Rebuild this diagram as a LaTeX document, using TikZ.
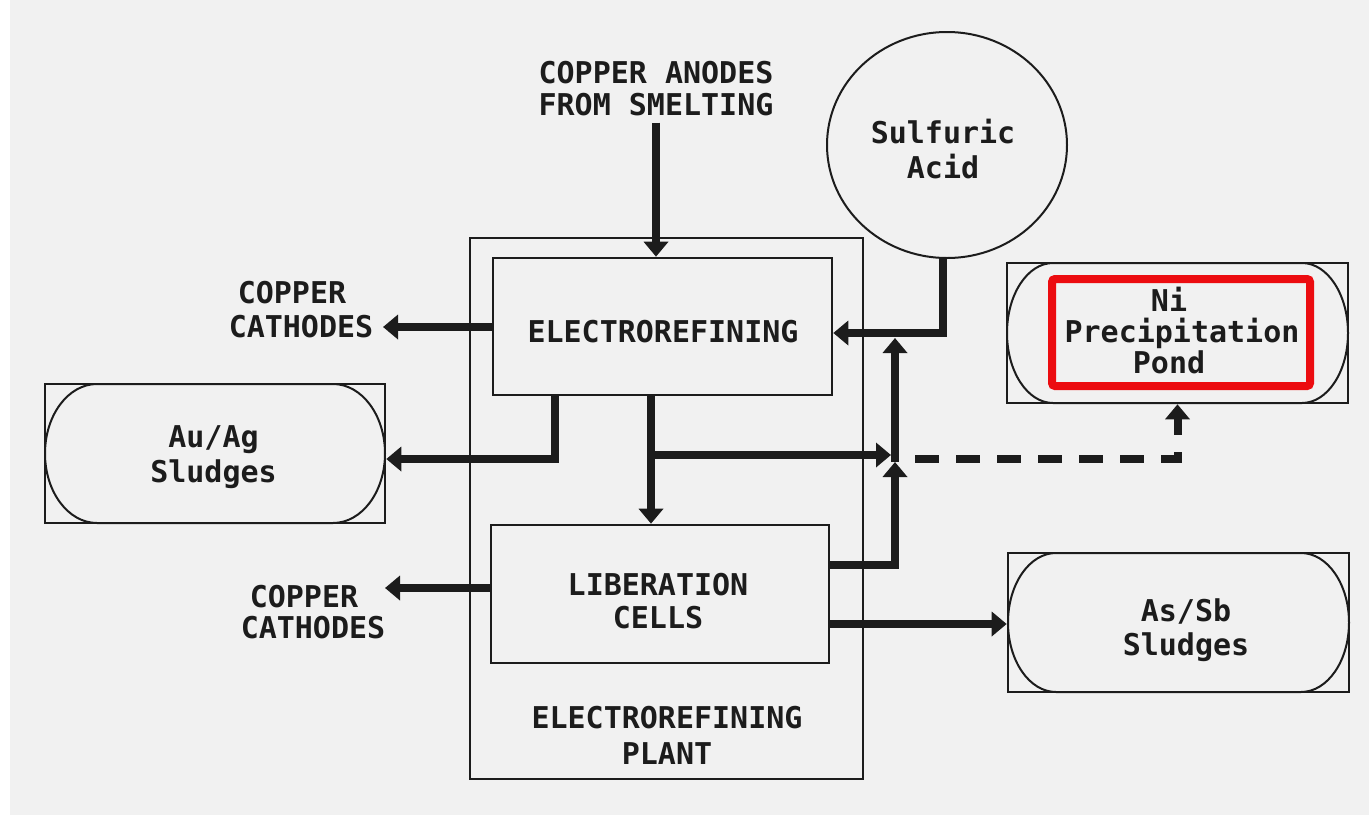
\documentclass[tikz,border=0pt]{standalone}
\usepackage{fontspec}
\setmainfont{DejaVu Sans Mono}
\usetikzlibrary{arrows.meta,shapes.geometric}
\definecolor{bgcol}{RGB}{241,241,241}
\definecolor{redbox}{RGB}{236,12,16}
\definecolor{ink}{RGB}{28,28,28}
\newcommand\pill[5]{%
  \pgfmathsetmacro\pillA{#5}%
  \pgfmathsetmacro\pillK{0.5523*#5}%
  \pgfmathsetmacro\pillM{(#2+#4)/2}%
  \pgfmathsetmacro\pillB{0.5523*(#4-#2)/2}%
  \draw[arcline] ({#1+\pillA},#2) -- ({#3-\pillA},#2)
    .. controls ({#3-\pillA+\pillK},#2) and (#3,{\pillM-\pillB}) .. (#3,\pillM)
    .. controls (#3,{\pillM+\pillB}) and ({#3-\pillA+\pillK},#4) .. ({#3-\pillA},#4)
    -- ({#1+\pillA},#4)
    .. controls ({#1+\pillA-\pillK},#4) and (#1,{\pillM+\pillB}) .. (#1,\pillM)
    .. controls (#1,{\pillM-\pillB}) and ({#1+\pillA-\pillK},#2) .. cycle;}
\begin{document}
\begin{tikzpicture}[x=1pt,y=-1pt,
  thinline/.style={draw=ink,line width=2.6pt},
  arcline/.style={draw=ink,line width=2pt},
  boxnode/.style={thinline,rectangle,inner sep=0pt},
  lbl/.style={align=center,inner sep=0pt,text=ink},
  flow/.style={draw=ink,line width=8pt,-{Triangle[width=24pt,length=15pt]}}]
\fill[white] (0,0) rectangle (1369,828);
\fill[bgcol] (10,0) rectangle (1369,815);
\useasboundingbox (0,0) rectangle (1369,828);

% pill outlines inside the sludge / pond boxes
\pill{45}{384}{385}{523}{52}
\pill{1007}{263}{1348}{403}{46}
\pill{1008}{553}{1349}{692}{48}

% boxes
\node[boxnode,minimum width=393pt,minimum height=541pt] (plant) at (666.5,508.5) {};
\node[boxnode,minimum width=339pt,minimum height=137pt] (er) at (662.5,326.5) {};
\node[boxnode,minimum width=338pt,minimum height=138pt] (lib) at (660,594) {};
\node[boxnode,minimum width=340pt,minimum height=139pt] (auag) at (215,453.5) {};
\node[boxnode,minimum width=341pt,minimum height=140pt] (ni) at (1177.5,333) {};
\node[boxnode,minimum width=341pt,minimum height=139pt] (assb) at (1178.5,622.5) {};
\node[draw=ink,line width=2pt,ellipse,inner sep=0pt,minimum width=240pt,minimum height=226pt] (acid) at (947,145) {};

% texts
\node[lbl,font=\bfseries\fontsize{30}{32}\selectfont] (anodes) at (656,89) {COPPER ANODES\\FROM SMELTING};
\node[lbl,font=\bfseries\fontsize{30}{33}\selectfont] (erT) at (663,332) {ELECTROREFINING};
\node[lbl,font=\bfseries\fontsize{30}{33}\selectfont] (libT) at (658,601.5) {LIBERATION\\CELLS};
\node[lbl,font=\bfseries\fontsize{30}{36}\selectfont] (plantT) at (667,735) {ELECTROREFINING\\PLANT};
\node[lbl,font=\bfseries\fontsize{30}{34}\selectfont] (cath1) at (301,310) {COPPER\phantom{C}\\CATHODES};
\node[lbl,font=\bfseries\fontsize{30}{31}\selectfont] (cath2) at (313,612.5) {COPPER\phantom{C}\\CATHODES};
\node[lbl,font=\bfseries\fontsize{30}{35}\selectfont] (auagT) at (213.5,457.5) {Au/Ag\\Sludges};
\node[lbl,font=\bfseries\fontsize{30}{35}\selectfont] (acidT) at (943,149.5) {Sulfuric\\Acid};
\node[lbl,font=\bfseries\fontsize{30}{31}\selectfont] (niT) at (1182,331) {Ni\hspace*{26pt}\\Precipitation\\Pond\hspace*{26pt}};
\node[lbl,font=\bfseries\fontsize{30}{34}\selectfont] (assbT) at (1186,630) {As/Sb\\Sludges};

% junction coordinates
\coordinate (c1) at (383,327);
\coordinate (c2) at (385,588);
\coordinate (kAu) at (555,459);
\coordinate (kMid) at (651,455);
\coordinate (kR) at (891,455);
\coordinate (rise) at (895,565);
\coordinate (jB) at (895,462);
\coordinate (jA) at (895,338);
\coordinate (acidIn) at (943,333);
\coordinate (asIn) at (829,624);
\coordinate (d0) at (915,459);

% connectors
\draw[flow] ([yshift=-6pt]anodes.south) -- (anodes.south |- er.north);
\draw[flow] (er.west |- c1) -- (c1);
\draw[flow] (lib.west |- c2) -- (c2);
\draw[flow] (er.south -| kAu) |- (auag.east |- kAu);
\draw[flow] (er.south -| kMid) -- (lib.north -| kMid);
\draw[flow] (kMid) -- (kR);
\draw[flow] (lib.east |- rise) -- (rise) -- (jB);
\draw[flow] (jB) -- (jA);
\draw[flow] (acid.south -| acidIn) -- (acidIn) -- (er.east |- acidIn);
\draw[flow] (lib.east |- asIn) -- (assb.west |- asIn);
\draw[flow,dash pattern=on 24pt off 17pt] (d0) -| (ni.south);

% red highlight
\node[draw=redbox,line width=8pt,rounded corners=3pt,inner sep=0pt,minimum width=258pt,minimum height=107pt] (redhl) at (1181,332.5) {};
\end{tikzpicture}
\end{document}
